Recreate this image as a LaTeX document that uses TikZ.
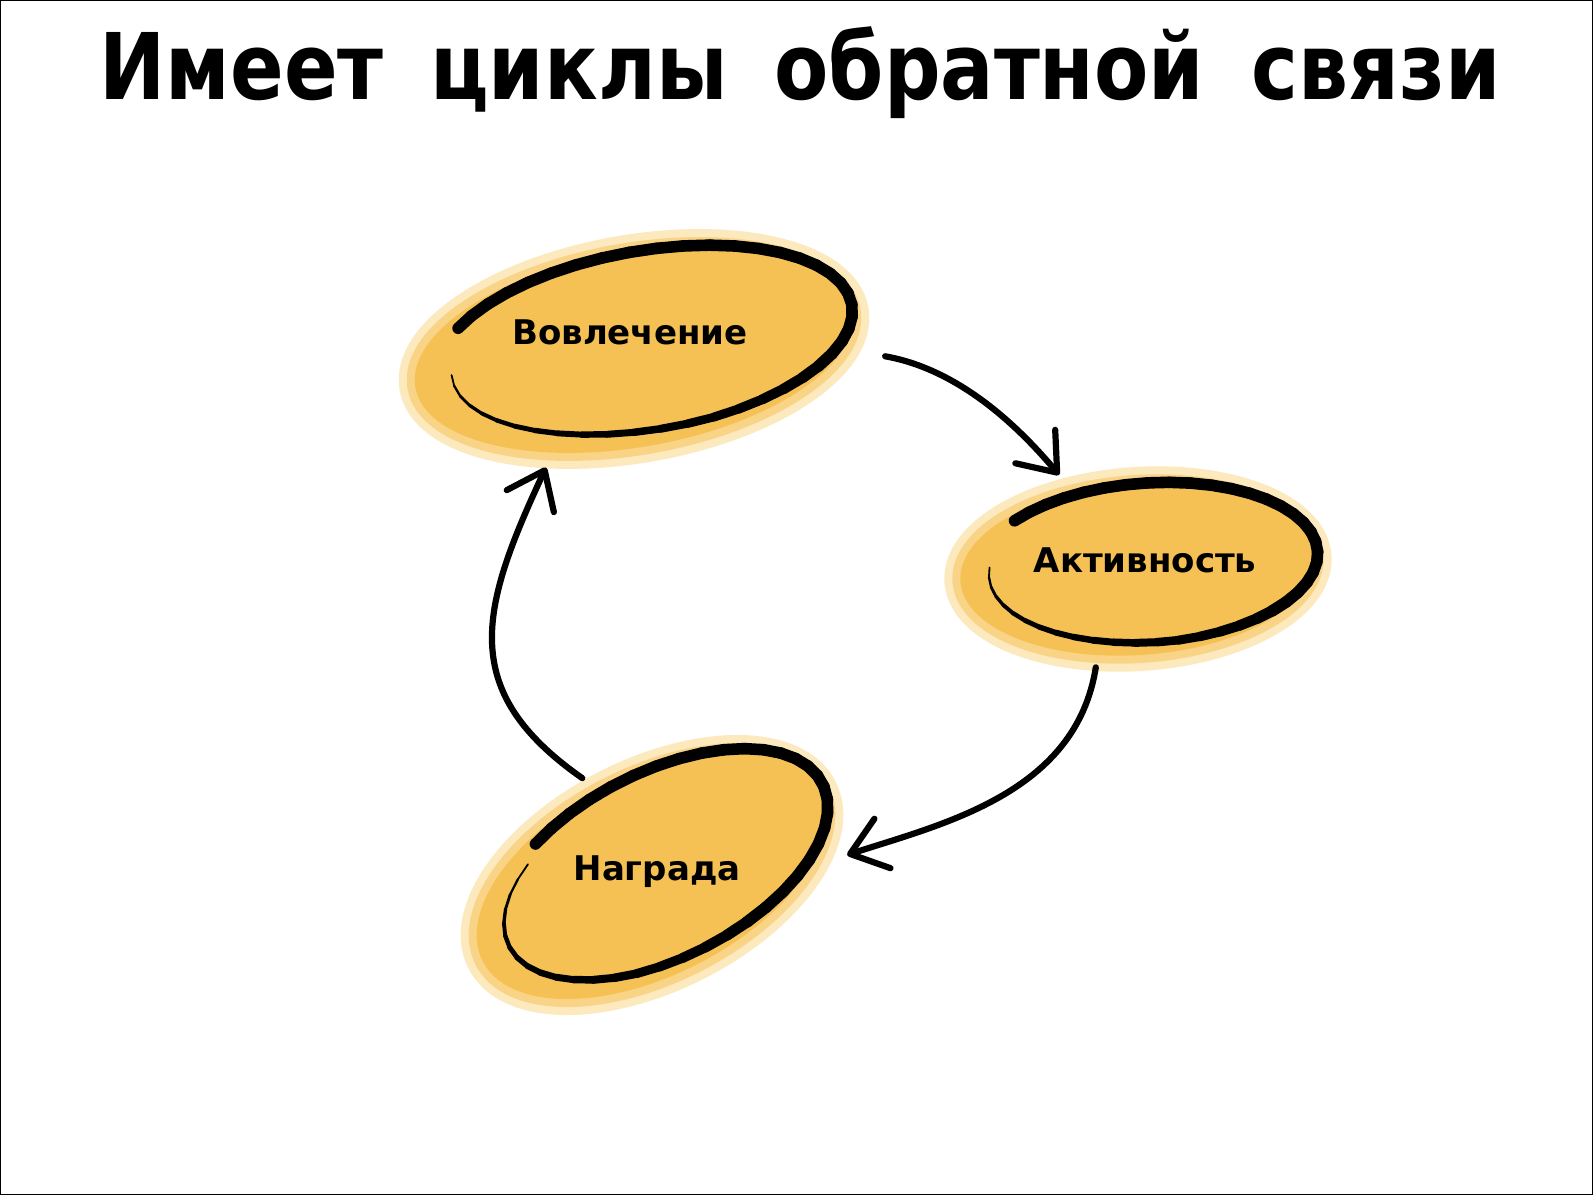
\documentclass[tikz,border=0pt]{standalone}
\usepackage{fontspec}
\setmainfont{DejaVu Sans}
\newfontfamily\ttlfont[FakeStretch=0.86,WordSpace=1.7]{DejaVu Sans}
\usetikzlibrary{arrows.meta,shapes.geometric}
\definecolor{och}{RGB}{245,193,85}
\definecolor{ochm}{RGB}{249,212,134}
\definecolor{ochl}{RGB}{252,233,190}

\begin{document}
\begin{tikzpicture}[x=0.5pt,y=0.5pt,>={Straight Barb[length=17pt,width=26pt,round]},
  blob/.style={ellipse,inner sep=0pt,fill=och,preaction={draw=ochl,line width=16pt},preaction={draw=ochm,line width=8pt}},
  lbl/.style={font=\fontsize{17}{19}\selectfont\bfseries,anchor=base,inner sep=0pt},
  arr/.style={->,line width=3.1pt,line cap=round}]
  \useasboundingbox (0,0) rectangle (1593,1195);
  \draw[line width=0.6pt] (0.6,0.6) rectangle (1592.4,1194.4);
  \node[font=\ttlfont\bfseries\fontsize{46}{50}\selectfont,anchor=base,inner sep=0pt] (ttl) at (800,1095) {Имеет циклы обратной связи};
  % loop states
  \node[blob,rotate=10,minimum width=222pt,minimum height=98pt] (vov) at (634,846) {};
  \node[blob,rotate=4,minimum width=178pt,minimum height=86pt] (akt) at (1138,626) {};
  \node[blob,rotate=27,minimum width=190pt,minimum height=100pt] (nag) at (652,320) {};
  % hand drawn rims, thick start and thin tail
  \foreach \cx/\cy/\ra/\rb/\rot/\st/\sp in {645/854/210/90/10/150/-330,1148/632/170/80/4/140/-325,662/330/180/93/27/125/-350}{
    \begin{scope}[shift={(\cx,\cy)},rotate=\rot]
      \foreach \i in {0,...,43}{
        \pgfmathsetmacro\p{\st+\sp*\i/44}
        \pgfmathsetmacro\q{\st+\sp*(\i+1)/44}
        \pgfmathsetmacro\w{min(5.8,5.8-4.9*(\i-24)/19)}
        \pgfmathsetmacro\ka{1-0.06*max(0,\i-30)/13}
        \pgfmathsetmacro\kb{1-0.06*max(0,\i-29)/13}
        \pgfmathsetmacro\xa{\ka*\ra*cos(\p)}\pgfmathsetmacro\ya{\ka*\rb*sin(\p)}
        \pgfmathsetmacro\xb{\kb*\ra*cos(\q)}\pgfmathsetmacro\yb{\kb*\rb*sin(\q)}
        \draw[line width=\w pt,line cap=round] (\xa,\ya) -- (\xb,\yb);
      }
    \end{scope}}
  \node[lbl] (vovt) at (630,850) {Вовлечение};
  \node[lbl] (aktt) at (1145,623) {Активность};
  \node[lbl] (nagt) at (657,315) {Награда};
  % feedback arrows
  \draw[arr,shorten <=21pt,shorten >=11pt] (vov.-10) to[out=-10,in=130] (akt.126);
  \draw[arr,shorten <=6pt,shorten >=19pt] (akt.241) to[out=-99,in=18] (nag.-24);
  \draw[arr,shorten <=10pt,shorten >=8pt] (nag.95) to[out=145,in=245,looseness=1.3] (vov.222);
\end{tikzpicture}
\end{document}
